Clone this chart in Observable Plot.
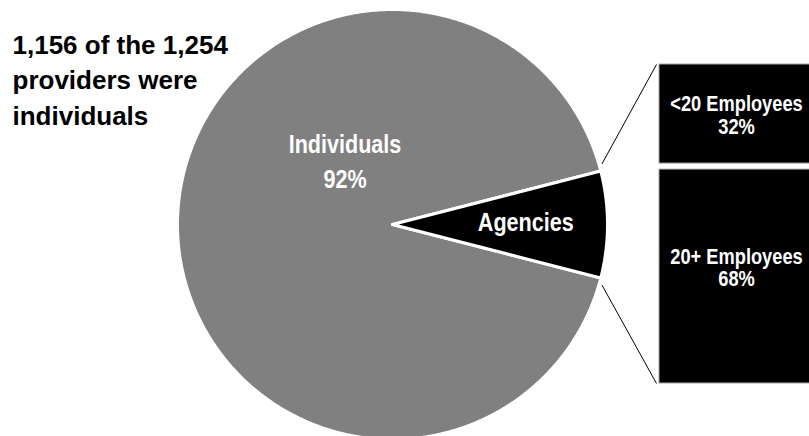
<!DOCTYPE html>
<html><head><meta charset="utf-8">
<script src="https://cdn.jsdelivr.net/npm/d3@7"></script>
<script src="https://cdn.jsdelivr.net/npm/@observablehq/plot@0.6"></script>
<style>html,body{margin:0;padding:0;background:#fff}#chart svg{display:block}</style>
</head><body><div id="chart"></div>
<script>
// ---- data ----
const providerTypes = ["Individuals", "Agencies"];
const providerShares = [92, 8];
const agencySizes = ["<20 Employees", "20+ Employees"];
const agencyShares = [32, 68];
const titleLines = ["1,156 of the 1,254", "providers were", "individuals"];

// ---- layout ----
const W = 809, H = 436;
const cx = 392, cy = 224, R = 215;
const barX1 = 659, barX2 = 814, barY1 = 64, barY2 = 383;
const GRAY = "#808080";
const FONT = "'Liberation Sans',Arial,sans-serif";
const NARROW_SCALE = 0.83;

const slices = providerTypes.map((name, i) => ({name, value: providerShares[i]}));
const agencyIdx = providerTypes.indexOf("Agencies");
const agencyFrac = providerShares[agencyIdx] / d3.sum(providerShares);
const a0 = Math.PI / 2 - agencyFrac * Math.PI;
const arcs = d3.pie().sort((a, b) => (a.name === "Agencies" ? -1 : 1)).value(d => d.value)
  .startAngle(a0).endAngle(a0 + 2 * Math.PI)(slices);

const pt = (a, r) => ({x: cx + r * Math.sin(a), y: cy - r * Math.cos(a)});
function polygon(arc) {
  const pts = [pt(0, 0)];
  const n = Math.max(4, Math.ceil((arc.endAngle - arc.startAngle) / 0.01));
  for (let k = 0; k <= n; k++) pts.push(pt(arc.startAngle + (arc.endAngle - arc.startAngle) * k / n, R));
  pts.push(pt(0, 0));
  return pts.map(p => ({...p, name: arc.data.name}));
}
const sliceMarks = arcs.map(arc => Plot.line(polygon(arc), {
  x: "x", y: "y", fill: arc.data.name === "Agencies" ? "black" : GRAY,
  stroke: "white", strokeWidth: 3, strokeLinejoin: "round"
}));

const agArc = arcs.find(a => a.data.name === "Agencies");

// bar segments
const barTotal = d3.sum(agencyShares);
let acc = 0;
const segs = agencySizes.map((name, i) => {
  const y1 = barY1 + (barY2 - barY1) * acc / barTotal;
  acc += agencyShares[i];
  const y2 = barY1 + (barY2 - barY1) * acc / barTotal;
  return {name, value: agencyShares[i], y1: y1 + (i > 0 ? 3 : 0), y2: y2 - (i < agencySizes.length - 1 ? 3 : 0)};
});

// connectors: from slice edges to bar corners
const edgeOff = 0.03;
const p1 = pt(agArc.startAngle - edgeOff, R + 3);
const p2 = pt(agArc.endAngle + edgeOff, R + 3);
const links = [
  {x1: p1.x, y1: p1.y, x2: barX1 - 3, y2: barY1},
  {x1: p2.x, y1: p2.y, x2: barX1 - 3, y2: barY2}
];

// labels
const agMid = (agArc.startAngle + agArc.endAngle) / 2;
const agLab = pt(agMid, 0.62 * R);
const indLab = pt(-0.726, 0.333 * R);
const pieLabels = [
  {x: indLab.x, y: indLab.y - 17.5, t: providerTypes[0]},
  {x: indLab.x, y: indLab.y + 17.5, t: providerShares[0] + "%"},
  {x: agLab.x, y: agLab.y + 6, t: providerTypes[agencyIdx]}
];
const barCx = (barX1 + 809) / 2 + 2;
const barLabels = [];
segs.forEach((s, i) => {
  const c = (s.y1 + s.y2) / 2 + (i === 0 ? -3 : -13);
  barLabels.push({x: barCx, y: c, t: s.name});
  barLabels.push({x: barCx, y: c + 22.5, t: s.value + "%"});
});
const titleData = titleLines.map((t, i) => ({x: 12, y: 53 + i * 35.5, t}));

const chart = Plot.plot({
  width: W, height: H,
  margin: 0,
  x: {domain: [0, W], axis: null},
  y: {domain: [0, H], reverse: true, axis: null},
  marks: [
    ...sliceMarks,
    Plot.link(links, {x1: "x1", y1: "y1", x2: "x2", y2: "y2", stroke: "black", strokeWidth: 1}),
    Plot.rect(segs, {x1: barX1, x2: barX2, y1: "y1", y2: "y2", fill: "black", stroke: "#a6a6a6", strokeWidth: 1}),
    Plot.text(pieLabels, {x: "x", y: "y", text: "t", fill: "white", fontFamily: FONT, fontSize: 26, fontWeight: "bold", lineAnchor: "bottom", className: "narrow"}),
    Plot.text(barLabels, {x: "x", y: "y", text: "t", fill: "white", fontFamily: FONT, fontSize: 22, fontWeight: "bold", lineAnchor: "bottom", className: "narrow"}),
    Plot.text(titleData, {x: "x", y: "y", text: "t", fill: "black", fontFamily: FONT, fontSize: 26, fontWeight: "bold", textAnchor: "start", lineAnchor: "bottom"})
  ]
});
// condense the narrow labels horizontally (Arial Narrow look)
d3.select(chart).selectAll(".narrow text").each(function () {
  const t = this.getAttribute("transform");
  if (t) {
    this.setAttribute("transform", t + ` scale(${NARROW_SCALE},1)`);
  } else {
    const x = +this.getAttribute("x") || 0;
    this.setAttribute("transform", `translate(${x},0) scale(${NARROW_SCALE},1) translate(${-x},0)`);
  }
});
document.getElementById("chart").append(chart);
</script>
</body></html>
